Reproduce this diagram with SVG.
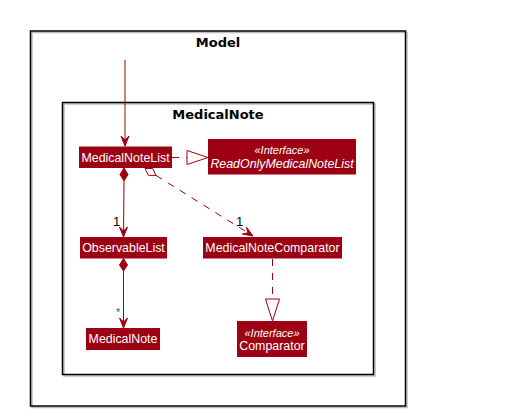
<svg xmlns="http://www.w3.org/2000/svg" width="527" height="416" viewBox="0 0 527 416">
<style>
.pkg{fill:none;stroke:#000;stroke-width:1.5}
.pkgs{fill:none;stroke:#bbb;stroke-width:1.5}
.ptitle{font-family:"DejaVu Sans",sans-serif;font-weight:bold;font-size:13px;fill:#000;text-anchor:middle}
.box{fill:#9D0012}
.t{font-family:"Liberation Sans",Arial,sans-serif;font-size:12.4px;fill:#fff;text-anchor:middle}
.it{font-style:italic}
.ln{fill:none;stroke:#9D0012;stroke-width:1}
.dash{stroke-dasharray:7,7}
.ah{fill:#9D0012;stroke:#9D0012;stroke-width:1}
.hol{fill:#fff;stroke:#9D0012;stroke-width:1}
.lbl{font-family:"Liberation Sans",Arial,sans-serif;font-size:13px;fill:#000}
</style>
<rect width="527" height="416" fill="#fff"/>
<g id="pkg-model">
<rect class="pkgs" x="32" y="32.5" width="375" height="375"/>
<rect class="pkg" x="30.5" y="31" width="375" height="375" fill="#fff"/>
<text class="ptitle" x="218" y="47">Model</text>
</g>
<g id="pkg-medicalnote">
<rect class="pkgs" x="64" y="104" width="311" height="272"/>
<rect class="pkg" x="62.5" y="102.5" width="311" height="272" fill="#fff"/>
<text class="ptitle" x="218" y="119">MedicalNote</text>
</g>
<g id="connectors">
<path class="ln" d="M125,60 L125,146"/>
<path class="ah" d="M125,146 L121,136 L125,140 L129,136 Z"/>
<path class="ln" d="M124,181 L123.5,237"/>
<path class="ah" d="M124,168 L128,174.5 L124,181 L120,174.5 Z"/>
<path class="ah" d="M123.5,237 L119.5,227 L123.5,231 L127.5,227 Z"/>
<text class="lbl" x="113" y="226">1</text>
<path class="ln" d="M123.5,271 L123.5,328"/>
<path class="ah" d="M123.5,258.5 L127.5,265 L123.5,271 L119.5,265 Z"/>
<path class="ah" d="M123.5,328 L119.5,318 L123.5,322 L127.5,318 Z"/>
<text class="lbl" x="116" y="316" style="font-size:11px;fill:#555">*</text>
<path class="ln dash" d="M172,157.5 L187,157.5"/>
<path class="hol" d="M187,150.5 L208,157.5 L187,164.5 Z"/>
<path class="ln dash" d="M156,175.4 L253,236"/>
<path class="hol" d="M145,168.5 L148.4,175.3 L156,175.4 L152.6,168.5 Z"/>
<path class="ah" d="M253,236 L242.4,234.1 L247.9,232.8 L246.6,227.3 Z"/>
<text class="lbl" x="236" y="226">1</text>
<path class="ln dash" d="M272.5,259 L272.5,299"/>
<path class="hol" d="M265.5,299 L279.5,299 L272.5,321 Z"/>
</g>
<g id="node-medicalnotelist">
<rect class="box" x="79" y="146.5" width="93" height="21.5"/>
<text class="t" x="125.5" y="161.5">MedicalNoteList</text>
</g>
<g id="node-readonlymedicalnotelist">
<rect class="box" x="208" y="139" width="148" height="35.5"/>
<text class="t it" x="282" y="154" style="font-size:11px">«Interface»</text>
<text class="t it" x="282" y="167.5">ReadOnlyMedicalNoteList</text>
</g>
<g id="node-observablelist">
<rect class="box" x="80" y="237" width="87" height="21.5"/>
<text class="t" x="123.5" y="252">ObservableList</text>
</g>
<g id="node-medicalnotecomparator">
<rect class="box" x="203" y="237" width="139" height="21.5"/>
<text class="t" x="272.5" y="252">MedicalNoteComparator</text>
</g>
<g id="node-medicalnote">
<rect class="box" x="86" y="328" width="74" height="22"/>
<text class="t" x="123" y="343">MedicalNote</text>
</g>
<g id="node-comparator">
<rect class="box" x="237" y="321" width="70" height="36"/>
<text class="t it" x="272" y="336.5" style="font-size:11px">«Interface»</text>
<text class="t" x="272" y="350">Comparator</text>
</g>
</svg>
